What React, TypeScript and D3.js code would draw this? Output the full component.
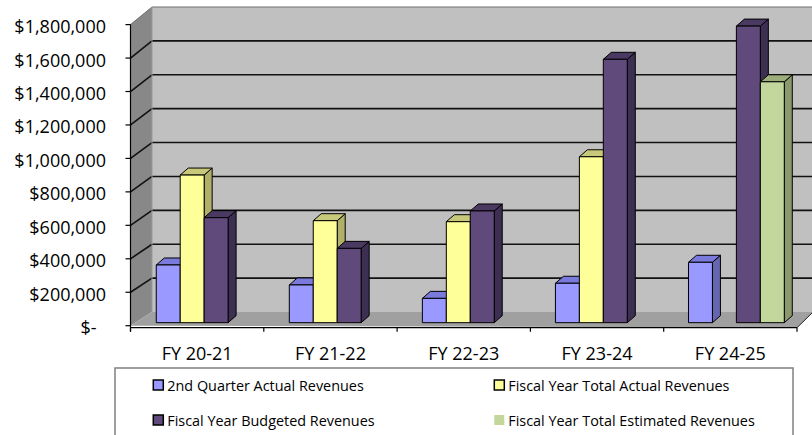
import React from 'react';
import * as d3 from 'd3';

const categories = ['FY 20-21', 'FY 21-22', 'FY 22-23', 'FY 23-24', 'FY 24-25'];
const seriesNames = [
  '2nd Quarter Actual Revenues',
  'Fiscal Year Total Actual Revenues',
  'Fiscal Year Budgeted Revenues',
  'Fiscal Year Total Estimated Revenues',
];
const q2Actual: (number | null)[] = [344000, 225000, 145000, 235000, 360000];
const fyActual: (number | null)[] = [880000, 608000, 602000, 989000, null];
const fyBudgeted: (number | null)[] = [626000, 443000, 666000, 1570000, 1768000];
const fyEstimated: (number | null)[] = [null, null, null, null, 1436000];
const yTicks = [0, 200000, 400000, 600000, 800000, 1000000, 1200000, 1400000, 1600000, 1800000];
const yTickLabels = ['$-  ', '$200,000', '$400,000', '$600,000', '$800,000', '$1,000,000', '$1,200,000', '$1,400,000', '$1,600,000', '$1,800,000'];

const seriesValues = [q2Actual, fyActual, fyBudgeted, fyEstimated];
const frontColors = ['#9999FF', '#FFFF99', '#604A7B', '#C3D69B'];
const topColors = ['#7A7ADD', '#C8C87A', '#4A3960', '#9DAD7C'];
const sideColors = ['#6666B0', '#B0B068', '#3D2F52', '#8A9A6C'];
const legendStroke = ['#000', '#000', '#000', 'none'];

const W = 812;
const H = 435;
const FONT = "'Open Sans', 'Noto Sans', sans-serif";

// 3D box: front plane and back plane
const frontX = d3.scaleLinear().domain([0, 1]).range([130.5, 797]);
const backX = d3.scaleLinear().domain([0, 1]).range([152, 813]);
const frontY = d3.scaleLinear().domain([0, 1800000]).range([325.7, 24.6]);
const backY = d3.scaleLinear().domain([0, 1800000]).range([312, 7]);
const lerp = (a: number, b: number, t: number) => a + (b - a) * t;

const BAR_T = 0.22;
const barY = (v: number) => lerp(frontY(v), backY(v), BAR_T);
const xBand = d3
  .scaleBand<string>()
  .domain(categories)
  .range([lerp(frontX(0), backX(0), BAR_T), lerp(frontX(1), backX(1), BAR_T)]);
const bw = xBand.bandwidth();
const sBand = d3
  .scaleBand<number>()
  .domain([0, 1, 2, 3])
  .range([bw * 0.158, bw * 0.158 + bw * 0.72]);
const DDX = 8;
const DDY = -7;

const catBand = d3.scaleBand<string>().domain(categories).range([frontX(0), frontX(1)]);

function Bar({ x, v, w, s }: { x: number; v: number; w: number; s: number }) {
  const yt = barY(v);
  const yb = barY(0);
  const top = [
    [x, yt],
    [x + w, yt],
    [x + w + DDX, yt + DDY],
    [x + DDX, yt + DDY],
  ];
  const side = [
    [x + w, yt],
    [x + w + DDX, yt + DDY],
    [x + w + DDX, yb + DDY],
    [x + w, yb],
  ];
  const p = (pts: number[][]) => pts.map((q) => q.join(',')).join(' ');
  return (
    <g stroke="#000" strokeWidth={1} strokeLinejoin="round">
      <polygon points={p(side)} fill={sideColors[s]} />
      <polygon points={p(top)} fill={topColors[s]} />
      <rect x={x} y={yt} width={w} height={yb - yt} fill={frontColors[s]} />
    </g>
  );
}

export default function App() {
  const ymax = yTicks[yTicks.length - 1];
  const bars: React.ReactNode[] = [];
  categories.forEach((c, ci) => {
    seriesValues.forEach((arr, si) => {
      const v = arr[ci];
      if (v == null) return;
      const x = (xBand(c) as number) + (sBand(si) as number);
      bars.push(<Bar key={`${ci}-${si}`} x={x} v={v} w={sBand.bandwidth()} s={si} />);
    });
  });

  const legendCols = [153.3, 494.3];
  const legendRows = [380, 415];

  return (
    <svg
      width={W}
      height={H}
      style={{ position: 'absolute', left: 0, top: 0, background: '#fff' }}
      fontFamily={FONT}
    >
      {/* back wall */}
      <rect
        x={backX(0)}
        y={backY(ymax)}
        width={backX(1) - backX(0)}
        height={backY(0) - backY(ymax)}
        fill="#C0C0C0"
      />
      {/* side wall */}
      <polygon
        points={`${frontX(0)},${frontY(ymax)} ${backX(0)},${backY(ymax)} ${backX(0)},${backY(0)} ${frontX(0)},${frontY(0)}`}
        fill="#888888"
      />
      {/* floor */}
      <polygon
        points={`${frontX(0)},${frontY(0)} ${frontX(1)},${frontY(0) + 2} ${backX(1)},${backY(0)} ${backX(0)},${backY(0)}`}
        fill="#A0A0A0"
      />
      {/* gridlines */}
      {yTicks.map((v, i) => {
        const isTop = i === yTicks.length - 1;
        if (v === 0) return null;
        const col = isTop ? '#707070' : '#111';
        const sw = isTop ? 1 : 1.6;
        return (
          <g key={v} stroke={col} strokeWidth={sw}>
            <line x1={backX(0)} x2={backX(1)} y1={backY(v)} y2={backY(v)} />
            <line x1={frontX(0)} x2={backX(0)} y1={frontY(v)} y2={backY(v)} />
          </g>
        );
      })}
      {/* wall edge */}
      <line x1={backX(0)} x2={backX(0)} y1={backY(ymax)} y2={backY(0)} stroke="#999" strokeWidth={1} />
      {/* bars */}
      {bars}
      {/* floor right edge */}
      <line x1={frontX(1)} y1={frontY(0) + 2} x2={backX(1)} y2={backY(0)} stroke="#222" strokeWidth={1} />
      {/* value axis */}
      <line x1={frontX(0)} x2={frontX(0)} y1={frontY(ymax)} y2={frontY(0) + 6} stroke="#000" strokeWidth={1.2} />
      {yTicks.map((v, i) => (
        <g key={v}>
          <line x1={frontX(0) - 5} x2={frontX(0)} y1={frontY(v)} y2={frontY(v)} stroke="#000" strokeWidth={1.2} />
          <text
            x={106}
            y={frontY(v) + 8.5}
            textAnchor="end"
            fontSize={18}
            fill="#000"
            style={{ whiteSpace: 'pre' }}
          >
            {yTickLabels[i]}
          </text>
        </g>
      ))}
      {/* category axis */}
      <line x1={frontX(0)} x2={frontX(1)} y1={frontY(0) + 2} y2={frontY(0) + 2} stroke="#000" strokeWidth={1.2} />
      {d3.range(categories.length + 1).map((i) => {
        const x = frontX(0) + i * catBand.bandwidth();
        return <line key={i} x1={x} x2={x} y1={frontY(0) + 2} y2={frontY(0) + 6} stroke="#000" strokeWidth={1.2} />;
      })}
      {categories.map((c) => (
        <text
          key={c}
          x={(catBand(c) as number) + catBand.bandwidth() / 2}
          y={360}
          textAnchor="middle"
          fontSize={18}
          fill="#000"
        >
          {c}
        </text>
      ))}
      {/* legend */}
      <rect x={115} y={368} width={678} height={90} fill="#fff" stroke="#808080" strokeWidth={1.5} />
      {seriesNames.map((n, i) => {
        const x = legendCols[i % 2];
        const y = legendRows[Math.floor(i / 2)];
        return (
          <g key={n}>
            <rect
              x={x}
              y={y}
              width={10}
              height={10}
              fill={frontColors[i]}
              stroke={legendStroke[i]}
              strokeWidth={1.5}
            />
            <text x={x + 14} y={y + 10.5} fontSize={14.4} fill="#000">
              {n}
            </text>
          </g>
        );
      })}
    </svg>
  );
}
